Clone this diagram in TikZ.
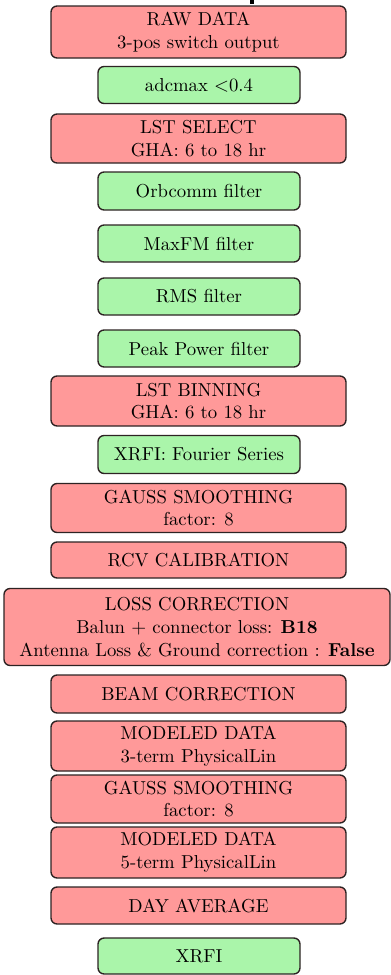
\documentclass[tikz,border=0pt]{standalone}
\usetikzlibrary{positioning}
\definecolor{boxred}{RGB}{255,153,153}
\definecolor{boxgreen}{RGB}{170,245,170}
\definecolor{edge}{RGB}{45,35,35}
\begin{document}
\begin{tikzpicture}[x=0.5714pt,y=-0.5714pt,
  base/.style={draw=edge,thick,rounded corners=3.5pt,align=center,inner sep=1pt,font=\fontsize{10.7}{13}\selectfont},
  redbox/.style={base,fill=boxred,minimum width={295*0.5714pt}},
  greenbox/.style={base,fill=boxgreen,minimum width={202*0.5714pt}},
  hh/.style={minimum height={#1*0.5714pt}}]
\useasboundingbox (0,0) rectangle (391,975);
\fill[black] (250,0) rectangle (254,4);
\node[redbox,hh=52] (raw) at (198.5,32) {RAW DATA\\3-pos switch output};
\node[greenbox,hh=37] (adc) at (199,85) {adcmax $<$0.4};
\node[redbox,hh=49] (lsts) at (198.5,138.5) {LST SELECT\\GHA: 6 to 18 hr};
\node[greenbox,hh=38] (orb) at (199,191) {Orbcomm filter};
\node[greenbox,hh=37] (maxfm) at (199,243.5) {MaxFM filter};
\node[greenbox,hh=37] (rms) at (199,296.5) {RMS filter};
\node[greenbox,hh=37] (peak) at (199,348.5) {Peak Power filter};
\node[redbox,hh=50] (lstb) at (198.5,401) {LST BINNING\\GHA: 6 to 18 hr};
\node[greenbox,hh=38] (xrfif) at (199,454.5) {XRFI: Fourier Series};
\node[redbox,hh=49] (gauss1) at (198.5,508) {GAUSS SMOOTHING\\factor: 8};
\node[redbox,hh=36] (rcv) at (198.5,560) {RCV CALIBRATION};
\node[base,fill=boxred,minimum width={386*0.5714pt},hh=77] (loss) at (197,627)
  {LOSS CORRECTION\\Balun $+$ connector loss: \textbf{B18}\\Antenna Loss \& Ground correction : \textbf{False}};
\node[redbox,hh=38] (beam) at (198.5,694) {BEAM CORRECTION};
\node[redbox,hh=50] (mod3) at (198.5,746) {MODELED DATA\\3-term PhysicalLin};
\node[redbox,hh=48] (gauss2) at (198.5,799) {GAUSS SMOOTHING\\factor: 8};
\node[redbox,hh=51] (mod5) at (198.5,852.5) {MODELED DATA\\5-term PhysicalLin};
\node[redbox,hh=37] (day) at (198.5,905.5) {DAY AVERAGE};
\node[greenbox,hh=36] (xrfi) at (199,956) {XRFI};
\end{tikzpicture}
\end{document}
